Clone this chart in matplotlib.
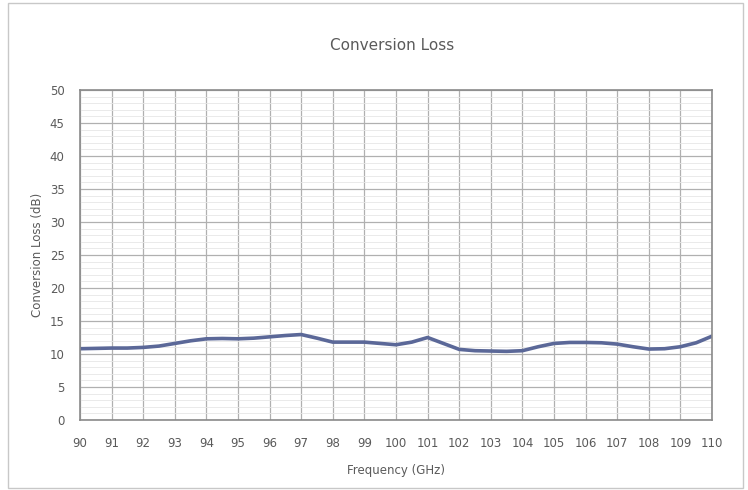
import matplotlib
matplotlib.use("Agg")
import matplotlib.pyplot as plt
from matplotlib.patches import Rectangle
from matplotlib.ticker import MultipleLocator

freq = [90, 90.5, 91, 91.5, 92, 92.5, 93, 93.5, 94, 94.5, 95, 95.5, 96, 96.5, 97,
        97.5, 98, 98.5, 99, 99.5, 100, 100.5, 101, 101.5, 102, 102.5, 103, 103.5,
        104, 104.5, 105, 105.5, 106, 106.5, 107, 107.5, 108, 108.5, 109, 109.5, 110]
loss = [10.8, 10.85, 10.9, 10.9, 11.0, 11.2, 11.6, 12.0, 12.3, 12.35, 12.3, 12.4,
        12.6, 12.8, 12.95, 12.4, 11.8, 11.8, 11.8, 11.6, 11.4, 11.8, 12.5, 11.6,
        10.7, 10.5, 10.45, 10.4, 10.5, 11.1, 11.6, 11.75, 11.75, 11.7, 11.5, 11.1,
        10.75, 10.8, 11.1, 11.7, 12.7]

xticks = list(range(90, 111))
yticks = list(range(0, 51, 5))

txt = "#5a5a5a"
fig = plt.figure(figsize=(7.48, 4.9), dpi=100)
fig.patches.append(Rectangle((8/748, 2/490), 735/748, 485/490, transform=fig.transFigure,
                             fill=False, edgecolor="#c8c8c8", linewidth=1.0))
ax = fig.add_axes([80/748, 1 - 420/490, 632/748, 330/490])
ax.plot(freq, loss, color="#5b6898", linewidth=2.6, solid_capstyle="round",
        solid_joinstyle="round")
ax.set_xlim(90, 110)
ax.set_ylim(0, 50)
ax.set_xticks(xticks)
ax.set_yticks(yticks)
ax.yaxis.set_minor_locator(MultipleLocator(1))
ax.grid(which="major", color="#b0b0b0", linewidth=0.9)
ax.grid(which="minor", axis="y", color="#e6e6e6", linewidth=0.6)
ax.set_axisbelow(True)
for s in ax.spines.values():
    s.set_color("#8a8a8a")
    s.set_linewidth(1.2)
ax.tick_params(which="both", length=0, colors=txt, labelsize=8.5)
ax.tick_params(axis="x", pad=12)
ax.tick_params(axis="y", pad=11)
ax.set_xlabel("Frequency (GHz)", fontsize=8.5, color=txt, labelpad=10)
ax.set_ylabel("Conversion Loss (dB)", fontsize=8.5, color=txt, labelpad=4)
fig.text(392/748, 1 - 45/490, "Conversion Loss", ha="center", va="center",
         fontsize=11, color=txt)
fig.savefig("out.png", dpi=100)
